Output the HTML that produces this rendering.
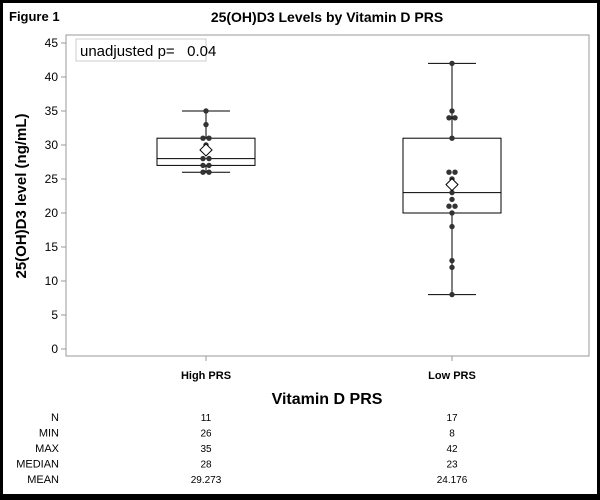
<!DOCTYPE html>
<html><head><meta charset="utf-8"><style>
body{margin:0;background:#000;}
svg{display:block;font-family:"Liberation Sans",Arial,sans-serif;}
</style></head><body>
<svg id="c" width="600" height="500" viewBox="0 0 600 500">
<rect x="3" y="3" width="594" height="491" fill="#fff"/>
<text x="9" y="21" font-size="13" font-weight="bold">Figure 1</text>
<text x="327" y="22" font-size="14" font-weight="bold" text-anchor="middle">25(OH)D3 Levels by Vitamin D PRS</text>
<rect x="66" y="35" width="523" height="321" fill="none" stroke="#999"/>
<rect x="76" y="39" width="130" height="22" fill="#fff" stroke="#ccc"/>
<text x="80" y="56" font-size="15" style="white-space:pre">unadjusted p=&#160;&#160;&#160;0.04</text>
<text transform="translate(26,196) rotate(-90)" font-size="15" font-weight="bold" text-anchor="middle">25(OH)D3 level (ng/mL)</text>
<text x="327" y="404" font-size="16" font-weight="bold" text-anchor="middle">Vitamin D PRS</text>
<g id="g"></g>
</svg>
<script>
const categories=["High PRS","Low PRS"];
const highValues=[35,33,31,31,30,28,28,27,27,26,26];
const lowValues=[42,35,34,34,31,26,26,25,23,22,21,21,20,18,13,12,8];
const q1s=[27,20];
const q3s=[31,31];
const medians=[28,23];
const mins=[26,8];
const maxs=[35,42];
const means=[29.273,24.176];
const yTicks=[0,5,10,15,20,25,30,35,40,45];
const statLabels=["N","MIN","MAX","MEDIAN","MEAN"];
const statValues=[["11","26","35","28","29.273"],["17","8","42","23","24.176"]];
const series=[highValues,lowValues];
const NS="http://www.w3.org/2000/svg";
const g=document.getElementById('g');
function y(v){return 349-v*6.8;}
function x(i){return 206+i*246;}
function mk(t,a,p){const e=document.createElementNS(NS,t);for(const k in a)e.setAttribute(k,a[k]);(p||g).appendChild(e);return e;}
yTicks.forEach(t=>{
  const l=mk('line',{x1:61,x2:66,y1:y(t),y2:y(t),stroke:'#999'});
  
  
  const tx=mk('text',{x:58,y:y(t)+4,'font-size':12,'text-anchor':'end'});tx.textContent=t;
  
  
});
categories.forEach((c,i)=>{
  const cx=x(i);
  const tk=mk('line',{x1:cx,x2:cx,y1:356,y2:361,stroke:'#999'});
  
  
  const lb=mk('text',{x:cx,y:379,'font-size':11,'font-weight':'bold','text-anchor':'middle'});lb.textContent=c;
  
  
  const w=mk('line',{x1:cx,x2:cx,y1:y(maxs[i]),y2:y(mins[i]),stroke:'#000'});
  
  
  [maxs[i],mins[i]].forEach(v=>{const cp=mk('line',{x1:cx-24,x2:cx+24,y1:y(v),y2:y(v),stroke:'#000'});
    
    });
  const b=mk('rect',{x:cx-49,y:y(q3s[i]),width:98,height:y(q1s[i])-y(q3s[i]),fill:'#fff',stroke:'#000'});
  
  
  const m=mk('line',{x1:cx-49,x2:cx+49,y1:y(medians[i]),y2:y(medians[i]),stroke:'#000'});
  
  
  const seen={};
  series[i].forEach(v=>{
    seen[v]=(seen[v]||0)+1;
    const cnt=series[i].filter(u=>u===v).length;
    const off=cnt>1?(seen[v]===1?-3:3):0;
    const d=mk('circle',{cx:cx+off,cy:y(v),r:2.7,fill:'#333'});
    
    
  });
  const my=y(means[i]);
  const mn=mk('polygon',{points:`${cx},${my-6} ${cx+6},${my} ${cx},${my+6} ${cx-6},${my}`,fill:'#fff',stroke:'#000'});
  
  
  statValues[i].forEach((s,j)=>{
    const t=mk('text',{x:cx,y:421+j*15.5,'font-size':10,'text-anchor':'middle'});t.textContent=s;
    
    
  });
});
statLabels.forEach((s,j)=>{
  const t=mk('text',{x:59,y:421+j*15.5,'font-size':11,'text-anchor':'end'});t.textContent=s;
  
  
});
</script>
</body></html>
